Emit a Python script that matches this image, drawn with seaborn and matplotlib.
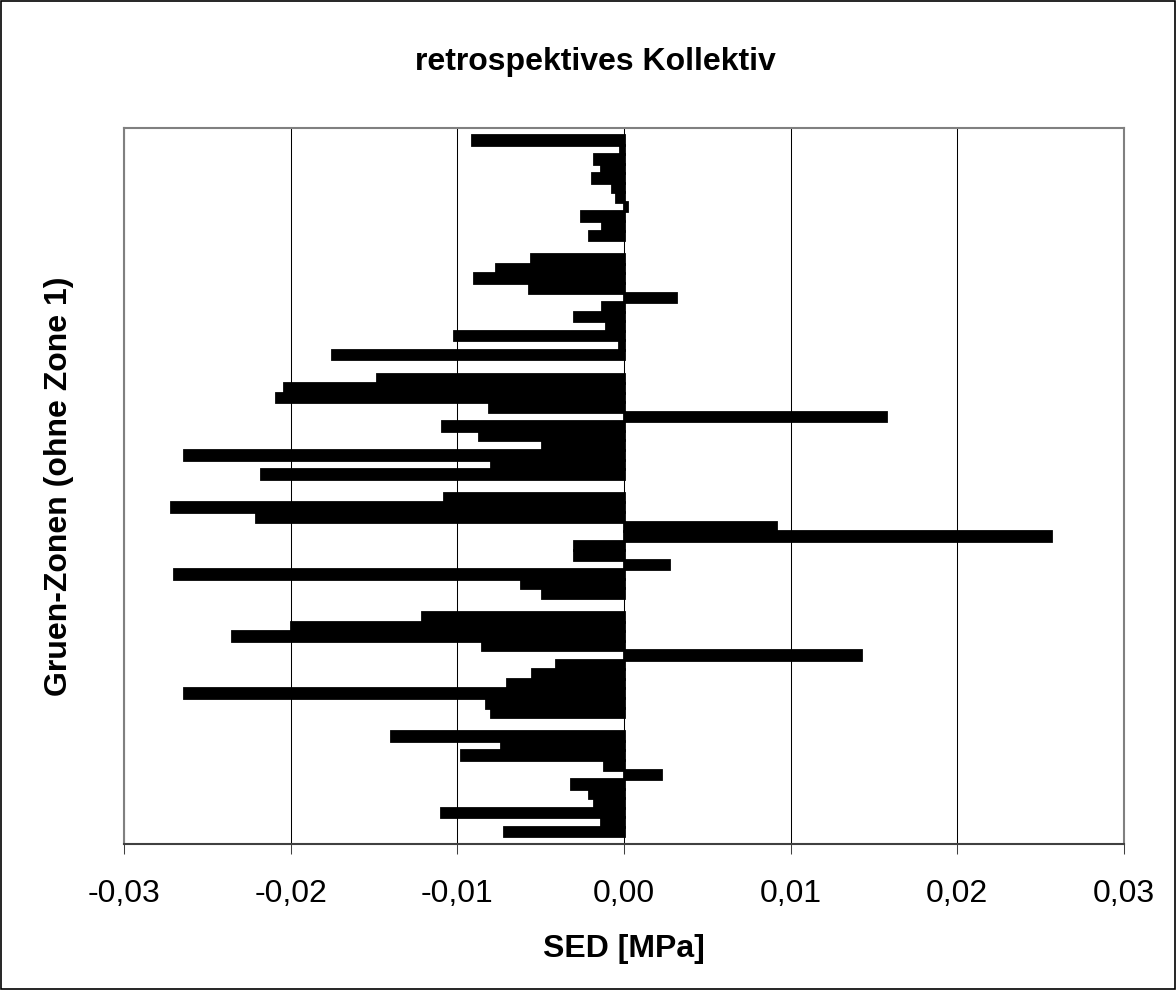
import pandas as pd
import seaborn as sns
import matplotlib.pyplot as plt
from matplotlib.patches import Rectangle

# Gruen-Zonen (von oben nach unten, wie im Excel-Diagramm)
zonen = ['Zone 7', 'Zone 6', 'Zone 5', 'Zone 4', 'Zone 3', 'Zone 2']

# Faelle innerhalb einer Gruppe (von oben nach unten)
faelle = ['Fall 11', 'Fall 10', 'Fall 9', 'Fall 8', 'Fall 7', 'Fall 6',
          'Fall 5', 'Fall 4', 'Fall 3', 'Fall 2', 'Fall 1']

# SED-Werte [MPa] je Zone
sed_zone7 = [-0.0091, -0.00025, -0.0018, -0.0014, -0.0019, -0.0007,
             -0.0005, 0.0002, -0.0026, -0.0013, -0.0021]
sed_zone6 = [-0.0056, -0.0077, -0.0090, -0.0057, 0.0031, -0.0013,
             -0.0030, -0.0011, -0.0102, -0.0003, -0.0175]
sed_zone5 = [-0.0148, -0.0204, -0.0209, -0.0081, 0.0157, -0.0109,
             -0.0087, -0.0049, -0.0264, -0.0080, -0.0218]
sed_zone4 = [-0.0108, -0.0272, -0.0221, 0.0091, 0.0256, -0.0030,
             -0.0030, 0.0027, -0.0270, -0.0062, -0.0049]
sed_zone3 = [-0.0121, -0.0200, -0.0235, -0.0085, 0.0142, -0.0041,
             -0.0055, -0.0070, -0.0264, -0.0083, -0.0080]
sed_zone2 = [-0.0140, -0.0074, -0.0098, -0.0012, 0.0022, -0.0032,
             -0.0021, -0.0018, -0.0110, -0.0014, -0.0072]

xtick_werte = [-0.03, -0.02, -0.01, 0.0, 0.01, 0.02, 0.03]
xtick_labels = ['-0,03', '-0,02', '-0,01', '0,00', '0,01', '0,02', '0,03']

# Long-Format fuer seaborn
sed_werte = [sed_zone7, sed_zone6, sed_zone5, sed_zone4, sed_zone3, sed_zone2]
zeilen = []
for zone, werte in zip(zonen, sed_werte):
    for fall, wert in zip(faelle, werte):
        zeilen.append({'Zone': zone, 'Fall': fall, 'SED': wert})
df = pd.DataFrame(zeilen)

sns.set_style('white')
plt.rcParams['font.family'] = ['Liberation Sans', 'DejaVu Sans']
plt.rcParams['text.color'] = 'black'
plt.rcParams['axes.labelcolor'] = 'black'
plt.rcParams['xtick.color'] = 'black'
plt.rcParams['ytick.color'] = 'black'

fig = plt.figure(figsize=(11.76, 9.9), dpi=100)
ax = fig.add_axes([124 / 1176, (990 - 843.5) / 990, 1000 / 1176, 715.5 / 990])

# gruppierte Balken, alle schwarz (Excel: Abstandsbreite 150 %)
sns.barplot(data=df, x='SED', y='Zone', hue='Fall', order=zonen, hue_order=faelle,
            palette=['black'] * len(faelle), orient='h', width=11 / 12.5,
            errorbar=None, legend=False, saturation=1,
            edgecolor='black', linewidth=2, ax=ax)

ax.set_xlim(-0.03, 0.03)
ax.set_ylim(len(zonen) - 0.5, -0.5)
ax.set_xticks(xtick_werte)
ax.set_xticklabels(xtick_labels, fontsize=23, color='black')
ax.set_yticks([])
ax.tick_params(axis='x', bottom=True, direction='out', length=7.2, width=0.75,
               color='#404040', labelcolor='black', pad=18)

# senkrechte Gitternetzlinien
ax.grid(axis='x', color='black', linewidth=0.75)
ax.set_axisbelow(True)

for seite in ['left', 'top', 'right']:
    ax.spines[seite].set_color('#808080')
    ax.spines[seite].set_linewidth(1.5)
ax.spines['bottom'].set_color('#404040')
ax.spines['bottom'].set_linewidth(1.5)

# Achsentitel
ax.set_xlabel('SED [MPa]', fontsize=23, fontweight='bold', color='black')
ax.xaxis.set_label_coords(0.5, -(956.7 - 843.5) / 715.5)
ax.xaxis.label.set_va('baseline')
ax.set_ylabel('Gruen-Zonen (ohne Zone 1)', fontsize=23, fontweight='bold', color='black')
ax.yaxis.set_label_coords(-(124 - 66.7) / 1000, 0.5)
ax.yaxis.label.set_rotation_mode('anchor')
ax.yaxis.label.set_va('baseline')
ax.yaxis.label.set_ha('center')

# Diagrammtitel
fig.text(595 / 1176, 1 - 70.3 / 990, 'retrospektives Kollektiv', ha='center',
         va='baseline', fontsize=23, fontweight='bold', color='black')

# Rahmen um das gesamte Diagramm
fig.add_artist(Rectangle((0.001, 0.001), 0.998, 0.998, transform=fig.transFigure,
                         fill=False, edgecolor='black', linewidth=1.2))

fig.savefig('out.png', dpi=100)
